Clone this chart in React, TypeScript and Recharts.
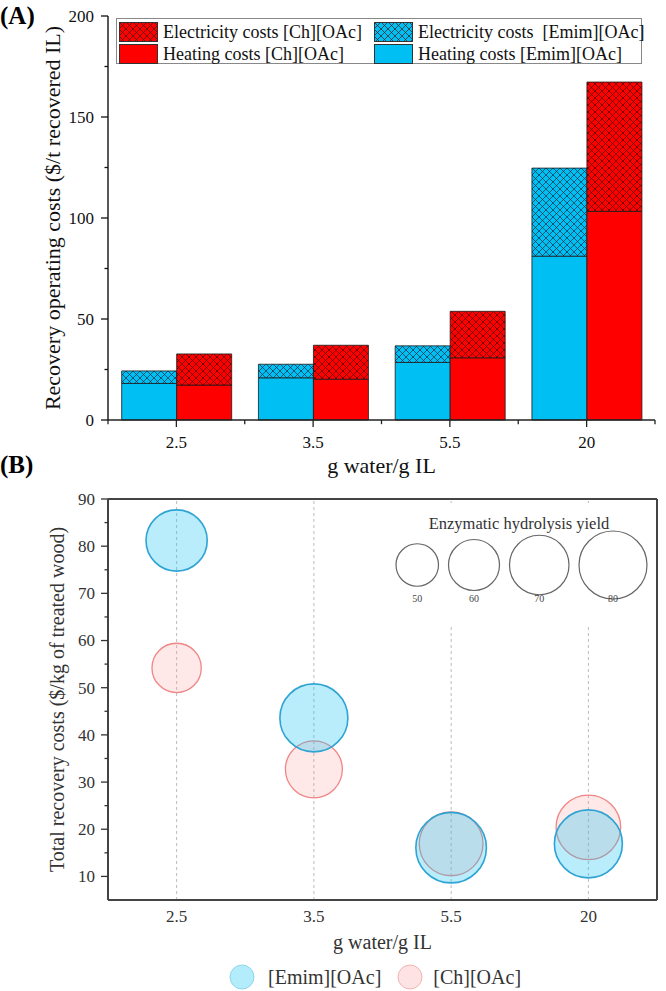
import React from "react";
import {
  BarChart,
  Bar,
  ScatterChart,
  Scatter,
  XAxis,
  YAxis,
  ReferenceLine,
} from "recharts";

// Panel A: recovery operating costs by water/IL ratio (stacked heating + electricity)
const ratios = ["2.5", "3.5", "5.5", "20"];
const emimHeating = [18.1, 20.9, 28.5, 81.1];
const emimElectricity = [6.2, 6.7, 8.2, 43.6];
const chHeating = [17.3, 20.2, 30.8, 103.3];
const chElectricity = [15.4, 16.8, 23.0, 64.0];
const costTicks = [0, 25, 50, 75, 100, 125, 150, 175, 200];

// Panel B: total recovery cost, bubble size = enzymatic hydrolysis yield (%)
const emimTotalCost = [81.2, 43.6, 16.1, 16.9];
const emimYield = [72, 80, 83, 80];
const chTotalCost = [54.2, 32.7, 16.9, 20.4];
const chYield = [58, 67, 75, 76];
const yieldLegend = [50, 60, 70, 80];
const recoveryTicks = [10, 15, 20, 25, 30, 35, 40, 45, 50, 55, 60, 65, 70, 75, 80, 85, 90];

const FONT = "'Liberation Serif', 'Times New Roman', serif";
const CYAN = "#00BFF2";
const RED = "#FF0000";
const W = 666;
const PX_PER_YIELD = 0.85; // bubble diameter per % yield

const barData = ratios.map((r, i) => ({
  ratio: r,
  emimHeating: emimHeating[i],
  emimElectricity: emimElectricity[i],
  chHeating: chHeating[i],
  chElectricity: chElectricity[i],
}));
const emimPoints = ratios.map((r, i) => ({ x: r, y: emimTotalCost[i], z: emimYield[i] }));
const chPoints = ratios.map((r, i) => ({ x: r, y: chTotalCost[i], z: chYield[i] }));

function YTick(props: any) {
  const { x, y, payload, major, len, gap, size, color } = props;
  const ax = x + len + gap;
  const isMajor = payload.value % major === 0;
  return (
    <g>
      <line x1={ax - (isMajor ? len : len / 2)} x2={ax} y1={y} y2={y} stroke={color} strokeWidth={1.3} />
      {isMajor && (
        <text x={x} y={y} dy="0.35em" textAnchor="end" fontFamily={FONT} fontSize={size} fill={color}>
          {payload.value}
        </text>
      )}
    </g>
  );
}

function BandTick(props: any) {
  const { x, y, payload, index, band, len, gap } = props;
  const ay = y - len - gap;
  return (
    <g>
      <line x1={x} x2={x} y1={ay} y2={ay + len} stroke="#222" strokeWidth={1.3} />
      <line x1={x + band / 2} x2={x + band / 2} y1={ay} y2={ay + len * 0.6} stroke="#222" strokeWidth={1.3} />
      {index === 0 && (
        <line x1={x - band / 2} x2={x - band / 2} y1={ay} y2={ay + len * 0.6} stroke="#222" strokeWidth={1.3} />
      )}
      <text x={x} y={y} dy="0.71em" textAnchor="middle" fontFamily={FONT} fontSize={17} fill="#111">
        {payload.value}
      </text>
    </g>
  );
}

function VTitle(props: any) {
  const { viewBox, text, cx, size, color } = props;
  const cy = viewBox ? viewBox.y + viewBox.height / 2 : 0;
  return (
    <text
      x={cx}
      y={cy}
      transform={`rotate(-90 ${cx} ${cy})`}
      textAnchor="middle"
      dominantBaseline="central"
      fontFamily={FONT}
      fontSize={size}
      fill={color}
    >
      {text}
    </text>
  );
}

function HTitle(props: any) {
  const { viewBox, text, dy, size, color } = props;
  const cx = viewBox ? viewBox.x + viewBox.width / 2 : 0;
  const y = viewBox ? viewBox.y + dy : 0;
  return (
    <text x={cx} y={y} textAnchor="middle" dominantBaseline="central" fontFamily={FONT} fontSize={size} fill={color}>
      {text}
    </text>
  );
}

function Bubble(props: any) {
  const { cx, cy, payload, fill, stroke, fillOpacity, strokeWidth } = props;
  if (cx == null || cy == null) return null;
  return (
    <circle
      cx={cx}
      cy={cy}
      r={(payload.z * PX_PER_YIELD) / 2}
      fill={fill}
      fillOpacity={fillOpacity}
      stroke={stroke}
      strokeWidth={strokeWidth}
    />
  );
}

function HatchSwatch({ color, id }: { color: string; id: string }) {
  return (
    <svg width={39} height={20} style={{ display: "block" }}>
      <defs>
        <pattern id={id} width="7" height="7" patternUnits="userSpaceOnUse">
          <rect width="7" height="7" fill={color} />
          <path d="M0,0 L7,7 M7,0 L0,7" stroke="#3a1a1a" strokeWidth={0.7} />
        </pattern>
      </defs>
      <rect x={0.5} y={0.5} width={38} height={19} fill={`url(#${id})`} stroke="#333" />
    </svg>
  );
}

function SolidSwatch({ color }: { color: string }) {
  return (
    <svg width={39} height={20} style={{ display: "block" }}>
      <rect x={0.5} y={0.5} width={38} height={19} fill={color} stroke="#333" />
    </svg>
  );
}

const legendA = [
  { label: "Electricity costs [Ch][OAc]", swatch: <HatchSwatch color={RED} id="lgRed" /> },
  { label: "Electricity costs\u00a0 [Emim][OAc]", swatch: <HatchSwatch color={CYAN} id="lgCyan" /> },
  { label: "Heating costs [Ch][OAc]", swatch: <SolidSwatch color={RED} /> },
  { label: "Heating costs [Emim][OAc]", swatch: <SolidSwatch color={CYAN} /> },
];

export default function App() {
  const aLeft = 48;
  const aAxisW = 60;
  const aRight = 11;
  const band = (W - aLeft - aAxisW - aRight) / ratios.length;

  let acc = 396;
  const yieldCircles = yieldLegend.map((v) => {
    const d = v * PX_PER_YIELD;
    const c = acc + d / 2;
    acc += d + 10;
    return { v, c, r: d / 2 };
  });

  return (
    <div style={{ position: "absolute", left: 0, top: 0, width: W, height: 991, background: "#fff", fontFamily: FONT }}>
      {/* Panel A */}
      <div style={{ position: "absolute", left: 0, top: 0 }}>
        <BarChart
          width={W}
          height={480}
          data={barData}
          margin={{ top: 16, right: aRight, left: aLeft, bottom: 0 }}
          barCategoryGap="10%"
          barGap={0}
        >
          <defs>
            <pattern id="hatchRed" width="7" height="7" patternUnits="userSpaceOnUse">
              <rect width="7" height="7" fill={RED} />
              <path d="M0,0 L7,7 M7,0 L0,7" stroke="#4a0000" strokeWidth={0.7} />
            </pattern>
            <pattern id="hatchCyan" width="7" height="7" patternUnits="userSpaceOnUse">
              <rect width="7" height="7" fill={CYAN} />
              <path d="M0,0 L7,7 M7,0 L0,7" stroke="#0a2a44" strokeWidth={0.7} />
            </pattern>
          </defs>
          <XAxis
            dataKey="ratio"
            height={60}
            axisLine={{ stroke: "#222", strokeWidth: 1.5 }}
            tickLine={false}
            tickSize={7}
            tickMargin={9}
            tick={(p: any) => <BandTick {...p} band={band} len={7} gap={9} />}
            label={<HTitle text="g water/g IL" dy={45} size={22} color="#111" />}
          />
          <XAxis xAxisId="top" orientation="top" dataKey="ratio" height={0} tick={false} tickLine={false} axisLine={{ stroke: "#222", strokeWidth: 1.5 }} />
          <YAxis
            width={aAxisW}
            domain={[0, 200]}
            ticks={costTicks}
            interval={0}
            axisLine={{ stroke: "#222", strokeWidth: 1.5 }}
            tickLine={false}
            tickSize={7}
            tickMargin={7}
            tick={(p: any) => <YTick {...p} major={50} len={7} gap={7} size={17} color="#111" />}
            label={<VTitle text="Recovery operating costs ($/t recovered IL)" cx={52} size={22} color="#111" />}
          />
          <YAxis yAxisId="right" orientation="right" width={0} tick={false} tickLine={false} axisLine={{ stroke: "#222", strokeWidth: 1.5 }} />
          <Bar dataKey="emimHeating" stackId="emim" fill={CYAN} stroke="#1a1a1a" strokeWidth={0.8} isAnimationActive={false} />
          <Bar dataKey="emimElectricity" stackId="emim" fill="url(#hatchCyan)" stroke="#1a1a1a" strokeWidth={0.8} isAnimationActive={false} />
          <Bar dataKey="chHeating" stackId="ch" fill={RED} stroke="#1a1a1a" strokeWidth={0.8} isAnimationActive={false} />
          <Bar dataKey="chElectricity" stackId="ch" fill="url(#hatchRed)" stroke="#1a1a1a" strokeWidth={0.8} isAnimationActive={false} />
        </BarChart>
      </div>

      {/* Panel A legend */}
      <div
        style={{
          position: "absolute",
          left: 116,
          top: 18,
          width: 526,
          height: 46,
          border: "1px solid #888",
          background: "#fff",
          display: "grid",
          gridTemplateColumns: "255px 1fr",
          gridTemplateRows: "22px 22px",
          rowGap: 0,
          padding: "2px 0 0 2px",
          boxSizing: "border-box",
        }}
      >
        {legendA.map((it) => (
          <div key={it.label} style={{ display: "flex", alignItems: "center", gap: 5, height: 22 }}>
            {it.swatch}
            <span style={{ fontSize: 18, color: "#111", whiteSpace: "pre", lineHeight: "20px" }}>{it.label}</span>
          </div>
        ))}
      </div>

      <div style={{ position: "absolute", left: 0, top: 2, fontSize: 25, fontWeight: "bold", lineHeight: "28px", color: "#000" }}>(A)</div>

      {/* Panel B */}
      <div style={{ position: "absolute", left: 0, top: 470 }}>
        <ScatterChart width={W} height={521} margin={{ top: 29, right: 9, left: 48, bottom: 0 }}>
          <XAxis
            type="category"
            dataKey="x"
            allowDuplicatedCategory={false}
            height={91}
            axisLine={{ stroke: "#444", strokeWidth: 2 }}
            tickLine={false}
            tickSize={0}
            tickMargin={10}
            tick={{ fontFamily: FONT, fontSize: 17, fill: "#333" }}
            label={<HTitle text="g water/g IL" dy={42} size={20} color="#333" />}
          />
          <YAxis
            type="number"
            dataKey="y"
            width={60}
            domain={[5, 90]}
            ticks={recoveryTicks}
            interval={0}
            axisLine={{ stroke: "#444", strokeWidth: 2 }}
            tickLine={false}
            tickSize={7}
            tickMargin={6}
            tick={(p: any) => <YTick {...p} major={10} len={7} gap={6} size={17} color="#333" />}
            label={<VTitle text="Total recovery costs ($/kg of treated wood)" cx={57} size={20} color="#333" />}
          />
          {ratios.map((r) => (
            <ReferenceLine key={r} x={r} stroke="#bbb" strokeDasharray="3 3" strokeWidth={1} />
          ))}
          {/* plot frame: top and right edges */}
          <ReferenceLine y={90} stroke="#444" strokeWidth={2} />
          <ReferenceLine x={ratios[ratios.length - 1]} position="end" stroke="#444" strokeWidth={2} />
          <Scatter
            name="[Ch][OAc]"
            data={chPoints}
            fill="#FF8A8A"
            isAnimationActive={false}
            shape={(p: any) => <Bubble {...p} fill="#FF8A8A" fillOpacity={0.2} stroke="#F08585" strokeWidth={1.3} />}
          />
          <Scatter
            name="[Emim][OAc]"
            data={emimPoints}
            fill="#1AC2F2"
            isAnimationActive={false}
            shape={(p: any) => <Bubble {...p} fill="#1AC2F2" fillOpacity={0.3} stroke="#2EA4D4" strokeWidth={1.6} />}
          />
        </ScatterChart>
      </div>

      {/* Bubble-size legend inside panel B */}
      <svg style={{ position: "absolute", left: 0, top: 0, pointerEvents: "none" }} width={W} height={991}>
        <rect x={385} y={503} width={266} height={121} fill="#fff" />
        <text x={519} y={523} textAnchor="middle" dominantBaseline="central" fontFamily={FONT} fontSize={16.5} fill="#333">
          Enzymatic hydrolysis yield
        </text>
        {yieldCircles.map((c) => (
          <g key={c.v}>
            <circle cx={c.c} cy={565} r={c.r} fill="none" stroke="#666" strokeWidth={1.2} />
            <text x={c.c} y={598} textAnchor="middle" dominantBaseline="central" fontFamily={FONT} fontSize={10} fill="#444">
              {c.v}
            </text>
          </g>
        ))}
      </svg>

      <div style={{ position: "absolute", left: 0, top: 451, fontSize: 25, fontWeight: "bold", lineHeight: "28px", color: "#000" }}>(B)</div>

      {/* Panel B series legend */}
      <div style={{ position: "absolute", left: 229, top: 964, height: 26, display: "flex", alignItems: "center", fontSize: 20, color: "#333" }}>
        <svg width={26} height={26} style={{ display: "block" }}>
          <circle cx={13} cy={13} r={12} fill="#B3ECFB" stroke="#8FD6EE" strokeWidth={1} />
        </svg>
        <span style={{ marginLeft: 13, marginRight: 16 }}>[Emim][OAc]</span>
        <svg width={26} height={26} style={{ display: "block" }}>
          <circle cx={13} cy={13} r={12} fill="#FDE3E3" stroke="#F4B2B2" strokeWidth={1} />
        </svg>
        <span style={{ marginLeft: 10 }}>[Ch][OAc]</span>
      </div>
    </div>
  );
}
